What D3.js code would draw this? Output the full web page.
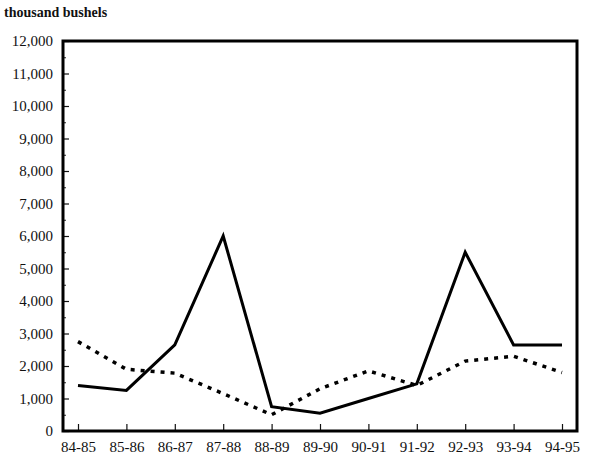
<!DOCTYPE html>
<html><head><meta charset="utf-8">
<script src="https://cdn.jsdelivr.net/npm/d3@7"></script>
<style>body{margin:0;background:#fff}svg{display:block}</style>
</head><body>
<svg id="c" width="593" height="461"></svg>
<script>
const categories = ["84-85","85-86","86-87","87-88","88-89","89-90","90-91","91-92","92-93","93-94","94-95"];
const solidSeries = [1400,1250,2650,6000,750,550,1000,1450,5500,2650,2650];
const dottedSeries = [2750,1900,1780,1150,500,1300,1850,1400,2150,2300,1800];
const yTicks = [0,1000,2000,3000,4000,5000,6000,7000,8000,9000,10000,11000,12000];
const yMinorTicks = [500,1500,2500,3500,4500,5500,6500,7500,8500,9500,10500,11500];
const unitLabel = "thousand bushels";

const svg = d3.select("#c");
const L = 63, R = 577, T = 41, B = 431;
const font = "'Liberation Serif', 'Times New Roman', serif";

const x = d3.scalePoint().domain(categories).range([78, 562]);
const y = d3.scaleLinear().domain([0, 12000]).range([B, T]);

svg.append("text").attr("x", 4).attr("y", 17)
  .attr("font-family", font).attr("font-size", 14).attr("font-weight", "bold")
  .attr("fill", "#111").text(unitLabel);

// minor y ticks
svg.append("g").attr("transform", `translate(${L},0)`)
  .call(d3.axisRight(y).tickValues(yMinorTicks).tickSize(3).tickFormat(""))
  .call(g => g.select(".domain").remove())
  .call(g => g.selectAll("line").attr("stroke", "#222").attr("stroke-width", 1));

// major y ticks
const yAx = svg.append("g").attr("transform", `translate(${L},0)`)
  .call(d3.axisLeft(y).tickValues(yTicks).tickSizeInner(-6).tickSizeOuter(0).tickPadding(10)
    .tickFormat(d3.format(",")));
yAx.select(".domain").remove();
yAx.selectAll("line").attr("stroke", "#111").attr("stroke-width", 1.2);
yAx.selectAll("text").attr("font-family", font).attr("font-size", 15).attr("fill", "#111");

// x ticks
const xAx = svg.append("g").attr("transform", `translate(0,${B})`)
  .call(d3.axisBottom(x).tickSizeInner(-7).tickSizeOuter(0).tickPadding(10));
xAx.select(".domain").remove();
xAx.selectAll("line").attr("stroke", "#111").attr("stroke-width", 1.2);
xAx.selectAll("text").attr("font-family", font).attr("font-size", 15).attr("fill", "#111");

// frame
svg.append("rect").attr("x", L).attr("y", T).attr("width", R - L).attr("height", B - T)
  .attr("fill", "none").attr("stroke", "#000").attr("stroke-width", 3);

const line = d3.line().x((d, i) => x(categories[i])).y(d => y(d));

svg.append("path").datum(dottedSeries).attr("d", line)
  .attr("fill", "none").attr("stroke", "#000").attr("stroke-width", 3.5)
  .attr("stroke-dasharray", "4,6").attr("stroke-linecap", "butt");

svg.append("path").datum(solidSeries).attr("d", line)
  .attr("fill", "none").attr("stroke", "#000").attr("stroke-width", 3)
  .attr("stroke-linejoin", "miter");
</script>
</body></html>
